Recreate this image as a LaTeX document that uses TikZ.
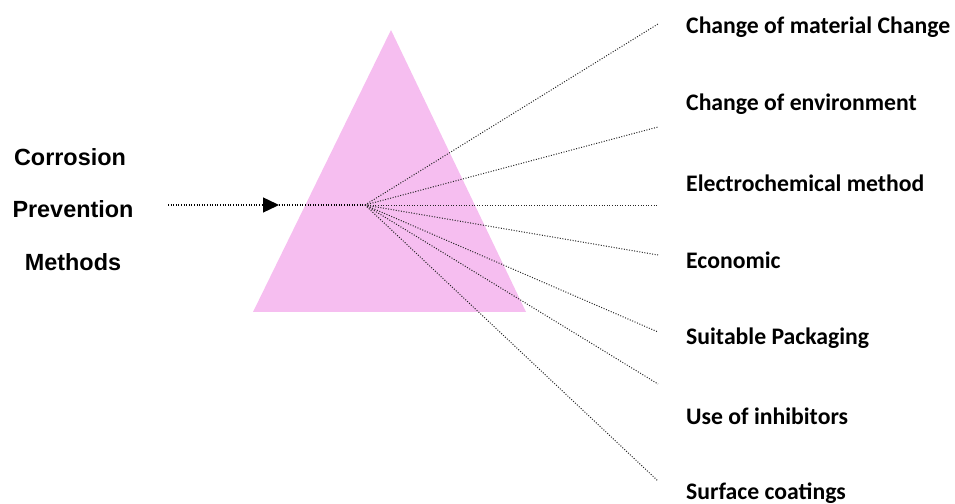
\documentclass[tikz,border=0pt]{standalone}
\usepackage{fontspec}
\usepackage{xcolor}
\usepackage{tikz}
\usetikzlibrary{arrows.meta, positioning, calc}
\newfontfamily\itemfont{Carlito}
\newfontfamily\headfont{Liberation Sans}
\definecolor{prismpink}{RGB}{246, 190, 240}

\begin{document}
\begin{tikzpicture}[x=1bp, y=-1bp,
    ray/.style={dash pattern=on 1bp off 1.6bp, line width=1pt, black!85},
    item/.style={anchor=west, inner sep=0pt, font=\itemfont\bfseries\fontsize{23.8}{27}\selectfont},
    head/.style={inner sep=0pt, font=\headfont\bfseries\fontsize{23.5}{27}\selectfont}]
  \useasboundingbox (0,0) rectangle (955,504);

  % Prism
  \fill[prismpink] (391,30) -- (526,312) -- (253,312) -- cycle;

  % Left title
  \node[head] (corr) at (70,157) {Corrosion};
  \node[head] (prev) at (73,209) {Prevention};
  \node[head] (meth) at (73,262) {Methods};

  % Incoming beam
  \coordinate (src) at (168,205);
  \coordinate (focus) at (365,205);
  \coordinate (tip) at (279,205);
  \draw[ray, line width=1.4pt, black, -{Triangle[length=16bp, width=15bp]}] (src) -- (tip);
  \draw[ray, line width=1.4pt, black] (tip) -- (focus);

  % Outgoing rays and labels
  \foreach \n/\ye/\yl/\txt in {1/24/27/Change of material Change,
                              2/127/104/Change of environment,
                              3/205/183/Electrochemical method,
                              4/255/260/Economic,
                              5/332/338/Suitable Packaging,
                              6/384/416/Use of inhibitors,
                              7/481/493/Surface coatings} {
    \coordinate (e\n) at (658,\ye);
    \draw[ray] (focus) -- (e\n);
    \node[item] (m\n) at (686,\yl) {\txt};
  }
\end{tikzpicture}
\end{document}
